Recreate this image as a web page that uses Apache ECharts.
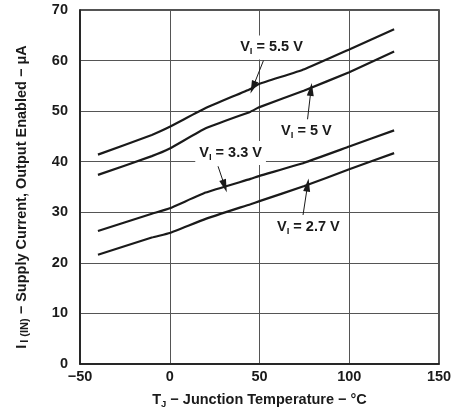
<!DOCTYPE html>
<html>
<head>
<meta charset="utf-8">
<script src="https://cdn.jsdelivr.net/npm/echarts@6/dist/echarts.min.js"></script>
<style>
html,body{margin:0;padding:0;background:#fff;}
#chart{width:461px;height:414px;}
</style>
</head>
<body>
<div id="chart"></div>
<script>
// Junction temperature (°C) at which each curve was read
var temps = [-40, -10, 0, 20, 45, 50, 75, 100, 125];
// Supply current (µA) per input voltage
var v55 = [41.4, 45.3, 46.9, 50.6, 54.4, 55.4, 58.3, 62.2, 66.2];
var v50 = [37.4, 41.1, 42.6, 46.6, 49.9, 50.8, 54.1, 57.7, 61.8];
var v33 = [26.3, 29.7, 30.8, 33.9, 36.6, 37.2, 39.8, 43.0, 46.2];
var v27 = [21.6, 25.0, 25.9, 28.7, 31.6, 32.2, 35.2, 38.5, 41.7];
var seriesNames = ['5.5 V', '5 V', '3.3 V', '2.7 V'];
// x ticks and y ticks
var xTicks = [-50, 0, 50, 100, 150];
var yTicks = [0, 10, 20, 30, 40, 50, 60, 70];
// annotation label anchors (data units) and arrow start/end (data units)
var labelPos = [[56.7, 62.6], [76.1, 46.0], [33.9, 41.7], [77.2, 27.1]];
var arrowFrom = [[52.2, 60.0], [76.5, 47.6], [26.9, 39.1], [74.1, 29.1]];
var arrowTo = [[46.3, 54.7], [78.7, 54.3], [30.6, 35.2], [76.8, 35.4]];

var FONT = '"Liberation Sans", Arial, sans-serif';
var FS = 14.5;
var allData = [v55, v50, v33, v27];

function pairs(vals) {
  return temps.map(function (t, i) { return [t, vals[i]]; });
}

var series = allData.map(function (vals, k) {
  return {
    type: 'line',
    name: seriesNames[k],
    data: pairs(vals),
    smooth: 0.12,
    showSymbol: false,
    symbol: 'none',
    lineStyle: { color: '#1a1a1a', width: 2.2 },
    z: 3,
    markLine: {
      silent: true,
      symbol: ['none', 'triangle'],
      symbolSize: [7, 13],
      lineStyle: { color: '#1a1a1a', width: 1, type: 'solid' },
      label: { show: false },
      data: [[{ coord: arrowFrom[k] }, { coord: arrowTo[k] }]],
      z: 5
    },
    markPoint: {
      silent: true,
      symbol: 'rect',
      symbolSize: 0,
      data: [{
        coord: labelPos[k],
        label: {
          show: true,
          position: 'inside',
          formatter: '{v|V}{s|I}{v| = ' + seriesNames[k] + '}',
          backgroundColor: '#fff',
          padding: [3, 4, 3, 4],
          rich: {
            v: { fontFamily: FONT, fontWeight: 'bold', fontSize: FS, color: '#1a1a1a' },
            s: { fontFamily: FONT, fontWeight: 'bold', fontSize: 9.5, color: '#1a1a1a', padding: [8, 0, 0, 0] }
          }
        }
      }],
      z: 6
    }
  };
});

var chart = echarts.init(document.getElementById('chart'), null, { renderer: 'canvas' });
chart.setOption({
  animation: false,
  backgroundColor: '#fff',
  grid: { left: 80, right: 22, top: 10, bottom: 45, show: true, borderColor: '#1a1a1a', borderWidth: 1.5, backgroundColor: 'transparent' },
  xAxis: {
    type: 'value',
    min: xTicks[0], max: xTicks[xTicks.length - 1], interval: 50,
    axisLine: { show: true, onZero: false, lineStyle: { color: '#1a1a1a', width: 1.5 } },
    axisTick: { show: false },
    splitLine: { show: true, lineStyle: { color: '#555', width: 1 } },
    axisLabel: {
      margin: 5, color: '#1a1a1a', fontFamily: FONT, fontWeight: 'bold', fontSize: FS,
      formatter: function (v) { return v < 0 ? '\u2212' + Math.abs(v) : String(v); }
    },
    name: '{a|T}{s|J}{a| \u2212 Junction Temperature \u2212 \u00b0C}',
    nameLocation: 'middle',
    nameGap: 27,
    nameTextStyle: {
      rich: {
        a: { fontFamily: FONT, fontWeight: 'bold', fontSize: FS, color: '#1a1a1a' },
        s: { fontFamily: FONT, fontWeight: 'bold', fontSize: 9.5, color: '#1a1a1a', padding: [8, 0, 0, 0] }
      }
    }
  },
  yAxis: {
    type: 'value',
    min: yTicks[0], max: yTicks[yTicks.length - 1], interval: 10,
    axisLine: { show: true, onZero: false, lineStyle: { color: '#1a1a1a', width: 1.5 } },
    axisTick: { show: false },
    splitLine: { show: true, lineStyle: { color: '#555', width: 1 } },
    axisLabel: { margin: 12, color: '#1a1a1a', fontFamily: FONT, fontWeight: 'bold', fontSize: FS },
    name: '{a|I}{s|I (IN)}{a| \u2212 Supply Current, Output Enabled \u2212 \u03bcA}',
    nameLocation: 'middle',
    nameGap: 50,
    nameTextStyle: {
      padding: [0, 20, 0, 0],
      rich: {
        a: { fontFamily: FONT, fontWeight: 'bold', fontSize: FS, color: '#1a1a1a' },
        s: { fontFamily: FONT, fontWeight: 'bold', fontSize: 11, color: '#1a1a1a', padding: [6, 0, 0, 2] }
      }
    }
  },
  series: series
});
</script>
</body>
</html>
